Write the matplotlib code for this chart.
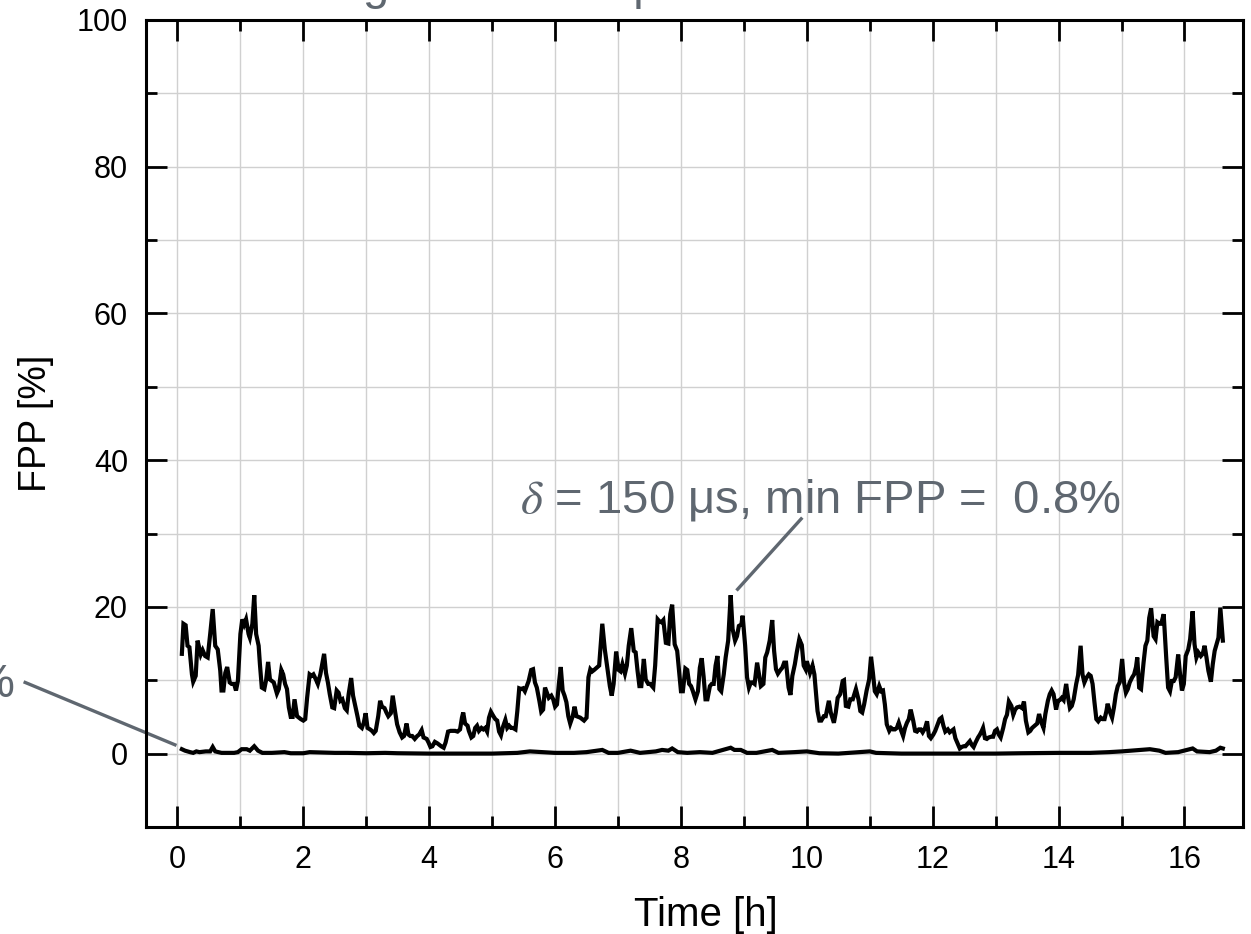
import matplotlib.pyplot as plt
from matplotlib.ticker import MultipleLocator

plt.rcParams['font.family'] = ['Liberation Sans', 'DejaVu Sans']
plt.rcParams['mathtext.fontset'] = 'stix'

# delta = 150 us curve (time in h, FPP in %)
time_150 = [
    0.07, 0.095, 0.13, 0.16, 0.19, 0.23, 0.25, 0.29, 0.32, 0.37, 0.40, 0.44, 0.48, 0.52, 0.56, 0.60,
    0.64, 0.68, 0.70, 0.73, 0.76, 0.79, 0.83, 0.86, 0.90, 0.93, 0.96, 1.00, 1.03, 1.06, 1.09, 1.13,
    1.15, 1.19, 1.22, 1.25, 1.29, 1.31, 1.34, 1.38, 1.41, 1.44, 1.47, 1.50, 1.53, 1.58, 1.61, 1.65,
    1.68, 1.71, 1.74, 1.77, 1.80, 1.83, 1.86, 1.90, 1.93, 1.96, 2.00, 2.03, 2.06, 2.10, 2.13, 2.16,
    2.20, 2.23, 2.27, 2.30, 2.33, 2.36, 2.39, 2.42, 2.46, 2.49, 2.53, 2.56, 2.59, 2.62, 2.66, 2.69,
    2.72, 2.76, 2.79, 2.83, 2.86, 2.89, 2.93, 2.96, 2.99, 3.02, 3.06, 3.09, 3.12, 3.15, 3.19, 3.22,
    3.25, 3.29, 3.32, 3.35, 3.39, 3.42, 3.46, 3.49, 3.53, 3.57, 3.60, 3.64, 3.67, 3.70, 3.73, 3.77,
    3.81, 3.84, 3.88, 3.91, 3.96, 3.99, 4.02, 4.05, 4.09, 4.13, 4.16, 4.19, 4.23, 4.26, 4.30, 4.34,
    4.38, 4.41, 4.45, 4.49, 4.52, 4.54, 4.57, 4.61, 4.63, 4.67, 4.70, 4.73, 4.76, 4.79, 4.83, 4.86,
    4.89, 4.92, 4.95, 4.98, 5.02, 5.05, 5.08, 5.11, 5.14, 5.17, 5.21, 5.24, 5.27, 5.30, 5.33, 5.37,
    5.40, 5.43, 5.46, 5.49, 5.52, 5.55, 5.58, 5.62, 5.65, 5.68, 5.71, 5.75, 5.78, 5.81, 5.84, 5.87,
    5.90, 5.94, 5.97, 6.00, 6.03, 6.06, 6.09, 6.12, 6.15, 6.18, 6.21, 6.24, 6.28, 6.31, 6.34, 6.37,
    6.40, 6.43, 6.46, 6.50, 6.53, 6.56, 6.59, 6.62, 6.66, 6.70, 6.75, 6.79, 6.83, 6.87, 6.90, 6.93,
    6.97, 7.01, 7.04, 7.07, 7.11, 7.14, 7.17, 7.21, 7.25, 7.28, 7.31, 7.34, 7.37, 7.41, 7.44, 7.48,
    7.51, 7.56, 7.59, 7.63, 7.66, 7.69, 7.72, 7.76, 7.80, 7.83, 7.86, 7.90, 7.94, 7.97, 8.00, 8.03,
    8.07, 8.10, 8.13, 8.16, 8.19, 8.23, 8.27, 8.30, 8.33, 8.36, 8.39, 8.42, 8.46, 8.49, 8.52, 8.55,
    8.58, 8.61, 8.64, 8.68, 8.71, 8.75, 8.79, 8.82, 8.86, 8.89, 8.92, 8.96, 8.98, 9.02, 9.05, 9.08,
    9.11, 9.14, 9.17, 9.21, 9.24, 9.27, 9.31, 9.34, 9.37, 9.41, 9.45, 9.48, 9.51, 9.54, 9.58, 9.61,
    9.64, 9.67, 9.71, 9.74, 9.77, 9.81, 9.84, 9.88, 9.92, 9.95, 9.98, 10.00, 10.05, 10.09, 10.12, 10.17,
    10.20, 10.23, 10.27, 10.30, 10.35, 10.38, 10.43, 10.46, 10.49, 10.53, 10.57, 10.59, 10.62, 10.66, 10.69, 10.73,
    10.78, 10.82, 10.85, 10.88, 10.91, 10.95, 10.99, 11.02, 11.05, 11.08, 11.11, 11.15, 11.18, 11.21, 11.24, 11.27,
    11.31, 11.34, 11.37, 11.40, 11.43, 11.46, 11.50, 11.53, 11.56, 11.59, 11.62, 11.65, 11.69, 11.72, 11.75, 11.78,
    11.81, 11.84, 11.88, 11.91, 11.94, 11.97, 12.01, 12.04, 12.08, 12.11, 12.14, 12.17, 12.20, 12.24, 12.27, 12.30,
    12.33, 12.36, 12.40, 12.43, 12.46, 12.49, 12.52, 12.56, 12.59, 12.62, 12.65, 12.68, 12.72, 12.75, 12.78, 12.80,
    12.83, 12.86, 12.89, 12.93, 12.96, 12.99, 13.02, 13.05, 13.08, 13.12, 13.15, 13.18, 13.21, 13.25, 13.28, 13.31,
    13.34, 13.38, 13.42, 13.45, 13.48, 13.52, 13.55, 13.58, 13.62, 13.66, 13.69, 13.72, 13.76, 13.79, 13.83, 13.86,
    13.89, 13.92, 13.96, 13.99, 14.02, 14.05, 14.08, 14.12, 14.15, 14.18, 14.21, 14.24, 14.28, 14.31, 14.35, 14.38,
    14.41, 14.44, 14.48, 14.51, 14.54, 14.57, 14.60, 14.63, 14.67, 14.70, 14.73, 14.76, 14.78, 14.81, 14.85, 14.88,
    14.91, 14.94, 14.97, 15.01, 15.04, 15.07, 15.10, 15.13, 15.17, 15.20, 15.23, 15.25, 15.28, 15.31, 15.35, 15.38,
    15.41, 15.44, 15.47, 15.51, 15.54, 15.57, 15.60, 15.63, 15.67, 15.71, 15.74, 15.77, 15.80, 15.83, 15.86, 15.90,
    15.93, 15.96, 15.99, 16.02, 16.06, 16.09, 16.13, 16.16, 16.19, 16.22, 16.26, 16.29, 16.32, 16.35, 16.38, 16.42,
    16.45, 16.48, 16.51, 16.54, 16.57, 16.61,
]
fpp_150 = [
    13.6, 17.7, 17.5, 14.7, 14.5, 10.8, 9.8, 10.6, 15.4, 13.5, 14.1, 13.3, 13.1, 16.3, 19.7, 14.7,
    14.2, 11.3, 8.6, 8.6, 11.0, 11.8, 9.7, 9.5, 9.5, 8.6, 9.9, 16.3, 18.3, 17.6, 18.3, 16.3,
    15.8, 17.7, 21.6, 16.3, 14.7, 12.2, 9.0, 8.8, 10.1, 12.5, 10.1, 9.9, 9.7, 8.2, 8.8, 11.4,
    10.8, 9.5, 8.8, 6.3, 5.0, 5.0, 7.4, 5.1, 4.9, 4.7, 4.5, 4.7, 7.6, 10.8, 10.6, 10.8,
    10.1, 9.5, 10.8, 12.2, 13.6, 11.0, 9.7, 8.1, 6.3, 6.2, 8.6, 8.3, 7.2, 7.4, 6.2, 5.9,
    8.1, 10.3, 7.9, 6.3, 5.1, 3.8, 3.5, 4.2, 5.5, 3.5, 3.3, 3.1, 2.8, 3.1, 5.1, 7.2,
    6.4, 6.2, 5.6, 5.1, 5.5, 7.9, 5.6, 4.0, 2.9, 2.2, 2.4, 4.1, 2.6, 2.4, 2.4, 2.0,
    2.4, 2.6, 3.2, 2.2, 2.0, 1.5, 0.9, 1.0, 1.6, 1.4, 1.2, 1.0, 0.8, 1.5, 3.0, 3.1,
    3.1, 3.1, 3.0, 3.3, 4.9, 5.6, 4.1, 3.8, 3.1, 2.2, 2.4, 3.5, 3.8, 3.1, 3.5, 3.3,
    3.5, 3.0, 4.9, 5.7, 5.1, 4.7, 4.5, 3.0, 2.5, 3.6, 4.6, 3.5, 3.8, 3.5, 3.5, 3.3,
    5.8, 8.9, 8.8, 8.9, 8.5, 9.2, 9.9, 11.4, 11.5, 9.7, 9.0, 7.2, 5.7, 6.0, 9.0, 8.3,
    7.6, 7.9, 7.4, 6.4, 6.7, 9.5, 11.8, 8.6, 7.9, 7.0, 5.1, 4.1, 5.1, 6.4, 5.1, 5.0,
    4.9, 4.7, 4.5, 4.9, 10.4, 11.5, 11.2, 11.4, 11.7, 12.0, 17.7, 14.2, 11.7, 9.2, 7.9, 9.5,
    13.9, 11.4, 11.2, 12.2, 10.9, 12.0, 14.7, 17.1, 14.0, 13.8, 11.3, 9.2, 9.2, 12.9, 10.1, 9.5,
    9.5, 9.0, 12.0, 18.3, 18.0, 17.9, 18.2, 15.1, 15.0, 19.0, 20.3, 14.9, 14.0, 11.3, 8.5, 8.5,
    11.6, 11.4, 9.5, 9.2, 8.5, 7.4, 8.5, 11.7, 13.0, 10.5, 7.4, 7.4, 9.2, 9.5, 9.5, 12.0,
    13.3, 8.8, 8.5, 10.8, 13.1, 15.4, 21.6, 17.0, 15.4, 16.0, 17.4, 17.6, 18.8, 14.7, 10.4, 9.0,
    9.7, 9.7, 9.5, 12.4, 10.8, 9.2, 9.5, 13.1, 13.8, 15.4, 18.2, 14.0, 11.5, 10.9, 11.4, 11.7,
    12.4, 12.4, 9.0, 8.0, 10.6, 12.2, 13.8, 15.6, 14.8, 12.0, 11.5, 12.6, 11.0, 12.0, 10.8, 5.8,
    4.5, 4.5, 5.1, 5.1, 7.2, 5.6, 4.2, 5.6, 7.6, 8.1, 9.9, 10.0, 6.5, 6.4, 7.4, 7.4,
    8.8, 7.4, 5.8, 5.6, 6.7, 8.6, 10.1, 13.2, 11.0, 8.5, 8.1, 9.2, 8.5, 8.6, 6.7, 4.0,
    3.1, 3.5, 3.3, 3.3, 3.5, 4.2, 3.1, 2.4, 3.5, 4.2, 4.7, 6.0, 4.5, 3.1, 3.0, 3.3,
    3.3, 2.9, 3.5, 4.4, 2.4, 2.1, 2.6, 3.1, 4.0, 4.7, 4.9, 3.8, 3.0, 3.3, 2.9, 3.1,
    3.3, 2.1, 1.3, 0.7, 0.9, 1.0, 1.0, 1.4, 1.7, 1.2, 0.9, 1.5, 2.2, 2.6, 3.1, 3.5,
    2.1, 2.0, 2.2, 2.3, 2.3, 3.1, 3.3, 2.6, 2.2, 3.5, 4.7, 5.3, 7.1, 6.5, 5.3, 6.0,
    6.3, 6.4, 6.2, 7.1, 4.5, 2.9, 3.1, 3.5, 3.8, 4.1, 5.4, 4.4, 3.5, 5.4, 7.2, 8.1,
    8.6, 8.1, 6.0, 7.2, 7.3, 7.6, 7.3, 9.5, 7.7, 6.2, 6.5, 7.4, 9.5, 10.7, 14.7, 10.8,
    9.7, 10.3, 10.8, 10.6, 9.5, 7.0, 4.7, 4.4, 4.9, 4.7, 4.7, 5.8, 6.8, 5.8, 4.9, 6.3,
    8.1, 9.2, 9.7, 12.9, 9.7, 8.3, 8.8, 9.7, 10.4, 10.8, 11.8, 13.1, 9.0, 8.8, 12.4, 14.7,
    15.4, 18.5, 19.8, 16.0, 15.6, 17.9, 17.7, 17.7, 19.0, 13.1, 9.0, 8.5, 9.9, 9.9, 10.4, 13.5,
    10.8, 8.6, 9.5, 13.3, 14.2, 15.6, 19.4, 14.9, 13.1, 13.8, 13.3, 13.6, 14.7, 13.1, 11.3, 9.8,
    12.2, 14.0, 14.9, 15.8, 19.9, 15.4,
]

# second (lower) curve
time_low = [
    0.07, 0.12, 0.20, 0.25, 0.30, 0.35, 0.45, 0.52, 0.56, 0.60, 0.70, 0.80, 0.90, 0.96, 1.02, 1.10,
    1.15, 1.22, 1.28, 1.35, 1.50, 1.70, 1.80, 2.00, 2.10, 2.30, 2.50, 2.70, 3.00, 3.30, 3.50, 4.00,
    5.00, 5.40, 5.60, 5.80, 6.00, 6.30, 6.50, 6.75, 6.85, 7.00, 7.20, 7.35, 7.60, 7.70, 7.80, 7.86,
    7.95, 8.10, 8.30, 8.50, 8.79, 8.85, 8.95, 9.05, 9.20, 9.45, 9.55, 9.80, 10.00, 10.20, 10.50, 11.00,
    11.10, 11.50, 12.50, 13.00, 13.40, 14.00, 14.50, 14.80, 15.00, 15.30, 15.45, 15.60, 15.70, 15.90, 16.13, 16.20,
    16.40, 16.50, 16.57, 16.61,
]
fpp_low = [
    0.6, 0.4, 0.2, 0.1, 0.3, 0.2, 0.3, 0.3, 0.9, 0.3, 0.1, 0.1, 0.1, 0.2, 0.6, 0.6,
    0.4, 1.0, 0.4, 0.1, 0.1, 0.2, 0.05, 0.05, 0.2, 0.15, 0.1, 0.1, 0.05, 0.1, 0.05, 0.0,
    0.0, 0.1, 0.3, 0.2, 0.1, 0.1, 0.2, 0.5, 0.1, 0.1, 0.4, 0.1, 0.3, 0.5, 0.4, 0.7,
    0.2, 0.1, 0.2, 0.1, 0.8, 0.5, 0.5, 0.1, 0.1, 0.5, 0.1, 0.2, 0.3, 0.05, 0.0, 0.3,
    0.1, 0.0, 0.0, 0.0, 0.05, 0.1, 0.1, 0.2, 0.3, 0.5, 0.6, 0.4, 0.1, 0.2, 0.7, 0.3,
    0.2, 0.4, 0.8, 0.7,
]

gray = '#5f6770'

fig = plt.figure(figsize=(12.51, 9.34), dpi=100)
ax = fig.add_axes([0.1167, 0.1146, 0.8769, 0.864])

ax.plot(time_low, fpp_low, color='black', lw=3.0, solid_joinstyle='miter')
ax.plot(time_150, fpp_150, color='black', lw=3.0, solid_joinstyle='miter')

ax.set_xlim(-0.5, 16.93)
ax.set_ylim(-10, 100)
ax.xaxis.set_major_locator(MultipleLocator(2))
ax.xaxis.set_minor_locator(MultipleLocator(1))
ax.yaxis.set_major_locator(MultipleLocator(20))
ax.yaxis.set_minor_locator(MultipleLocator(10))
ax.grid(which='both', color='#d0d0d0', lw=1.0)
ax.set_axisbelow(True)
ax.tick_params(which='both', direction='in', top=True, right=True, width=2, labelsize=22, pad=13)
ax.tick_params(which='major', length=15)
ax.tick_params(which='minor', length=8)
for sp in ax.spines.values():
    sp.set_linewidth(2.2)

ax.set_xlabel('Time [h]', fontsize=29, labelpad=11)
ax.xaxis.set_label_coords(0.51, -0.085, transform=ax.transAxes)
ax.set_ylabel('FPP [%]', fontsize=27, labelpad=16)

# annotations
ax.text(5.44, 32.8, r'$\delta$ = 150 μs, min FPP =  0.8%', fontsize=34, color=gray,
        ha='left', va='baseline')
ax.plot([8.9, 9.91], [22.4, 32.0], color=gray, lw=2.4)

ax.text(-2.58, 7.8, r'$\delta$ = 50 μs, min FPP =  0%', fontsize=34, color=gray,
        ha='right', va='baseline', clip_on=False)
ax.plot([-2.42, -0.04], [9.7, 1.2], color=gray, lw=2.4, clip_on=False)

ax.text(1.70, 102.8, 'Longer-term temperature', fontsize=34, color=gray,
        ha='left', va='baseline', clip_on=False)

fig.savefig('out.png', dpi=100)
